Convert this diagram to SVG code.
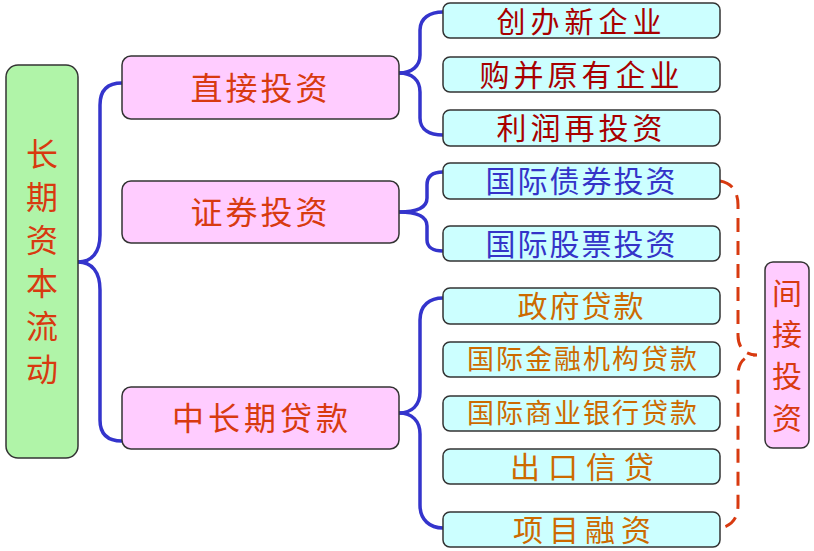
<svg xmlns="http://www.w3.org/2000/svg" width="814" height="551" viewBox="0 0 814 551">
<style>
text{font-family:"Noto Sans CJK SC","Noto Sans CJK TC",sans-serif;text-anchor:middle;dominant-baseline:central}
.box{stroke:#333;stroke-width:1.5}
.green{fill:#b0f4a8}
.pink{fill:#ffccff}
.cyan{fill:#ccffff}
.t-red{fill:#d83a10}
.t-dred{fill:#a80000}
.t-blue{fill:#3434c8}
.t-org{fill:#cc6a00}
.brace{fill:none;stroke:#3434cc;stroke-width:3.5}
.dash{fill:none;stroke:#d83a10;stroke-width:3;stroke-dasharray:14 9}
</style>
<rect width="814" height="551" fill="#fff"/>
<g id="connectors">
<path class="brace" d="M78,262 C92,262 100,252 100,235 L100,105 C100,90 108,83 122,83"/>
<path class="brace" d="M78,262 C92,262 100,272 100,290 L100,420 C100,435 108,441 122,441"/>
<path class="brace" d="M399,73 C412,73 420,66 420,55 L420,30 C420,18 430,12 443,12"/>
<path class="brace" d="M399,73 C412,73 420,80 420,92 L420,118 C420,130 430,135 443,135"/>
<path class="brace" d="M399,212 C415,212 427,208 427,198 L427,185 C427,176 433,172 443,172"/>
<path class="brace" d="M399,212 C415,212 427,216 427,226 L427,240 C427,247 433,251 443,251"/>
<path class="brace" d="M399,413 C412,413 420,405 420,392 L420,320 C420,305 430,298 443,298"/>
<path class="brace" d="M399,413 C412,413 420,421 420,434 L420,505 C420,520 430,528 443,528"/>
<path class="dash" d="M720,181 C732,183 738,192 738,205 L738,335 C738,348 745,355 757,355 C745,355 738,362 738,375 L738,505 C738,518 732,526 720,528"/>
</g>
<g id="root">
<rect class="box green" x="6" y="65" width="72" height="393" rx="12"/>
<text class="t-red" font-size="32" x="42" y="152">长</text>
<text class="t-red" font-size="32" x="42" y="195">期</text>
<text class="t-red" font-size="32" x="42" y="238">资</text>
<text class="t-red" font-size="32" x="42" y="281">本</text>
<text class="t-red" font-size="32" x="42" y="324">流</text>
<text class="t-red" font-size="32" x="42" y="367">动</text>
</g>
<g id="direct">
<rect class="box pink" x="122" y="56" width="277" height="63" rx="9"/>
<text class="t-red" font-size="32" x="260.5" y="85.5" letter-spacing="3">直接投资</text>
</g>
<g id="securities">
<rect class="box pink" x="122" y="181" width="277" height="62" rx="9"/>
<text class="t-red" font-size="32" x="260.5" y="210" letter-spacing="3">证券投资</text>
</g>
<g id="loans">
<rect class="box pink" x="122" y="387" width="277" height="62" rx="9"/>
<text class="t-red" font-size="32" x="262" y="416" letter-spacing="4">中长期贷款</text>
</g>
<g id="new-enterprise">
<rect class="box cyan" x="443" y="3" width="277" height="35" rx="7"/>
<text class="t-dred" font-size="29" x="581.5" y="19.5" letter-spacing="5">创办新企业</text>
</g>
<g id="merger">
<rect class="box cyan" x="443" y="57" width="277" height="35" rx="7"/>
<text class="t-dred" font-size="30" x="581.5" y="72.5" letter-spacing="4">购并原有企业</text>
</g>
<g id="reinvest">
<rect class="box cyan" x="443" y="110" width="277" height="36" rx="7"/>
<text class="t-dred" font-size="30" x="581.5" y="126" letter-spacing="4">利润再投资</text>
</g>
<g id="bond">
<rect class="box cyan" x="443" y="163" width="277" height="36" rx="7"/>
<text class="t-blue" font-size="30" x="581.5" y="179" letter-spacing="2">国际债券投资</text>
</g>
<g id="stock">
<rect class="box cyan" x="443" y="226" width="277" height="35" rx="7"/>
<text class="t-blue" font-size="30" x="581.5" y="241.5" letter-spacing="2">国际股票投资</text>
</g>
<g id="gov-loan">
<rect class="box cyan" x="443" y="288" width="277" height="36" rx="7"/>
<text class="t-org" font-size="30" x="581.5" y="304" letter-spacing="2">政府贷款</text>
</g>
<g id="ifi-loan">
<rect class="box cyan" x="443" y="342" width="277" height="35" rx="7"/>
<text class="t-org" font-size="27" x="583" y="357.5" letter-spacing="2">国际金融机构贷款</text>
</g>
<g id="bank-loan">
<rect class="box cyan" x="443" y="396" width="277" height="35" rx="7"/>
<text class="t-org" font-size="27" x="583" y="411.5" letter-spacing="2">国际商业银行贷款</text>
</g>
<g id="export-credit">
<rect class="box cyan" x="443" y="449" width="277" height="35" rx="7"/>
<text class="t-org" font-size="30" x="586" y="464.5" letter-spacing="8">出口信贷</text>
</g>
<g id="project-finance">
<rect class="box cyan" x="443" y="512" width="277" height="35" rx="7"/>
<text class="t-org" font-size="30" x="585" y="527.5" letter-spacing="6">项目融资</text>
</g>
<g id="indirect">
<rect class="box pink" x="765" y="262" width="44" height="186" rx="8"/>
<text class="t-red" font-size="30" x="787" y="291">间</text>
<text class="t-red" font-size="30" x="787" y="332">接</text>
<text class="t-red" font-size="30" x="787" y="374">投</text>
<text class="t-red" font-size="30" x="787" y="416">资</text>
</g>
</svg>
